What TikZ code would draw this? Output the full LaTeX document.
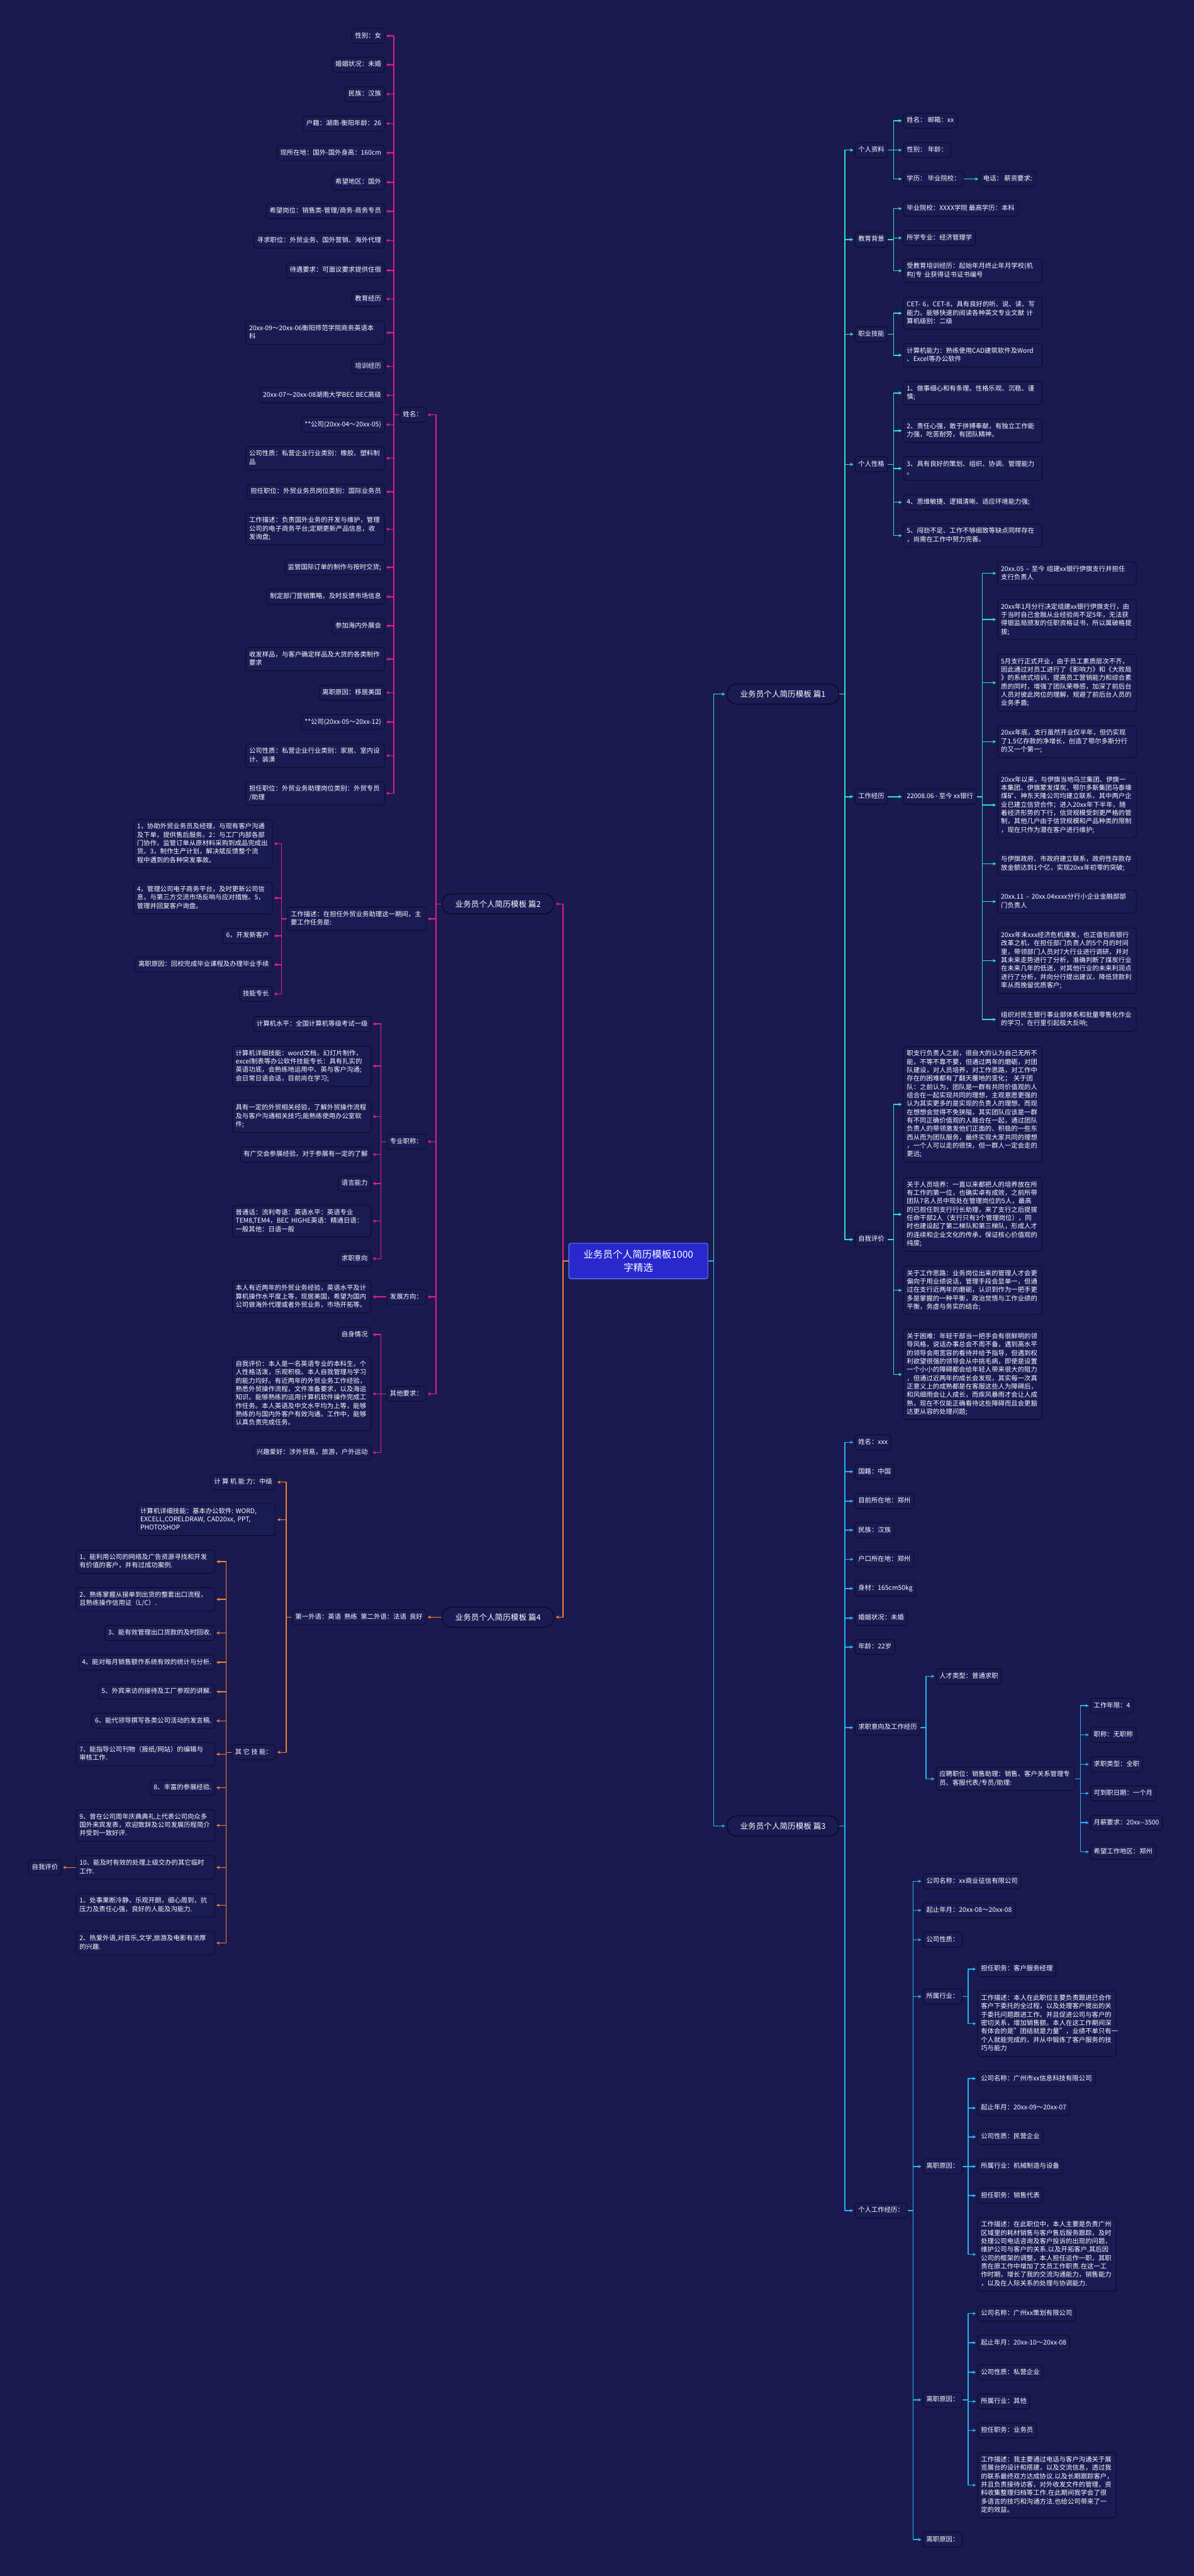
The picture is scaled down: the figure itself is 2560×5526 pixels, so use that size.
\documentclass[tikz,border=0pt]{standalone}
\usepackage{fontspec}
\setmainfont{Noto Sans CJK SC}
\usetikzlibrary{arrows.meta}
\hyphenpenalty=10000
\exhyphenpenalty=10000
\definecolor{bg}{RGB}{26,26,80}
\definecolor{nodefill}{RGB}{27,27,84}
\definecolor{nodeedge}{RGB}{10,10,36}
\definecolor{cpink}{RGB}{230,30,140}
\definecolor{corange}{RGB}{245,130,50}
\definecolor{ccyan}{RGB}{50,225,200}
\definecolor{cblue}{RGB}{40,180,240}
\definecolor{centerfill}{RGB}{40,40,205}
\definecolor{centeredge}{RGB}{100,120,255}
\newcommand\mystrut{\rule[-5pt]{0pt}{18pt}}
\newcommand\LeafE[5][]{\node[leaf,anchor=east,#1] (#2) at (#3,#4) {#5};}
\newcommand\LeafW[5][]{\node[leaf,anchor=west,#1] (#2) at (#3,#4) {#5};}
\newcommand\ConL[3]{\draw[conn,#1] (#2.west) -- ++(-12,0) |- (#3.east);}
\newcommand\ConR[3]{\draw[conn,#1] (#2.east) -- ++(12,0) |- (#3.west);}
\begin{document}
\begin{tikzpicture}[x=1pt,y=-1pt,
 leaf/.style={draw=nodeedge,line width=1.2pt,fill=nodefill,rounded corners=6pt,text=white,align=left,
   inner xsep=7pt,inner ysep=7pt,font=\fontsize{14}{18}\selectfont,
   execute at begin node={\parindent0pt\mystrut},execute at end node=\mystrut},
 w/.style={text width=283pt},
 mainnode/.style={draw=nodeedge,line width=2pt,fill=nodefill,rounded corners=21pt,text=white,
   minimum width=240pt,minimum height=43pt,font=\fontsize{17}{20}\selectfont,inner sep=4pt},
 rootnode/.style={draw=centeredge,line width=1.5pt,fill=centerfill,rounded corners=4pt,text=white,
   align=center,minimum width=298pt,minimum height=76pt,font=\fontsize{21}{28}\selectfont},
 conn/.style={line width=2pt,line join=round,-{Stealth[length=7pt,width=7pt]},shorten >=3pt},
]
\fill[bg] (0,0) rectangle (2560,5526);
\useasboundingbox (0,0) rectangle (2560,5526);

% root and main branches
\node[rootnode] (root) at (1369,2705) {业务员个人简历模板1000\\字精选};
\node[mainnode,anchor=east] (p1) at (1800,1489) {业务员个人简历模板 篇1};
\node[mainnode,anchor=west] (p2) at (947,1939) {业务员个人简历模板 篇2};
\node[mainnode,anchor=east] (p3) at (1800,3917) {业务员个人简历模板 篇3};
\node[mainnode,anchor=west] (p4) at (947,3469) {业务员个人简历模板 篇4};
\ConL{cpink}{root}{p2}
\ConL{corange}{root}{p4}
\ConR{ccyan}{root}{p1}
\ConR{cblue}{root}{p3}

% ===== 篇2 =====
\LeafE{xm}{914}{890}{姓名：}
\LeafE{a01}{825}{77}{性别：女}
\LeafE{a02}{825}{139}{婚姻状况：未婚}
\LeafE{a03}{825}{202}{民族：汉族}
\LeafE{a04}{825}{265}{户籍：湖南-衡阳年龄：26}
\LeafE{a05}{825}{328}{现所在地：国外-国外身高：160cm}
\LeafE{a06}{825}{391}{希望地区：国外}
\LeafE{a07}{825}{453}{希望岗位：销售类-管理/商务-商务专员}
\LeafE{a08}{825}{516}{寻求职位：外贸业务、国外营销、海外代理}
\LeafE{a09}{825}{580}{待遇要求：可面议要求提供住宿}
\LeafE{a10}{825}{641.5}{教育经历}
\LeafE[w]{a11}{825}{714}{20xx-09～20xx-06衡阳师范学院商务英语本\\科}
\LeafE{a12}{825}{786}{培训经历}
\LeafE{a13}{825}{848}{20xx-07～20xx-08湖南大学BEC BEC高级}
\LeafE{a14}{825}{911}{**公司(20xx-04～20xx-05)}
\LeafE[w]{a15}{825}{983}{公司性质：私营企业行业类别：橡胶、塑料制\\品}
\LeafE{a16}{825}{1055}{担任职位：外贸业务员岗位类别：国际业务员}
\LeafE[w]{a17}{825}{1135}{工作描述：负责国外业务的开发与维护，管理\\公司的电子商务平台;定期更新产品信息，收\\发询盘;}
\LeafE{a18}{825}{1217}{监管国际订单的制作与按时交货;}
\LeafE{a19}{825}{1280}{制定部门营销策略，及时反馈市场信息}
\LeafE{a20}{825}{1342.5}{参加海内外展会}
\LeafE[w]{a21}{825}{1414}{收发样品，与客户确定样品及大货的各类制作\\要求}
\LeafE{a22}{825}{1486}{离职原因：移居美国}
\LeafE{a23}{825}{1549}{**公司(20xx-05～20xx-12)}
\LeafE[w]{a24}{825}{1621}{公司性质：私营企业行业类别：家居、室内设\\计、装潢}
\LeafE[w]{a25}{825}{1702}{担任职位：外贸业务助理岗位类别：外贸专员\\/助理}
\foreach \c in {a01,a02,a03,a04,a05,a06,a07,a08,a09,a10,a11,a12,a13,a14,a15,a16,a17,a18,a19,a20,a21,a22,a23,a24,a25}{\ConL{cpink}{xm}{\c}}

\LeafE[w]{gz}{914}{1971}{工作描述：在担任外贸业务助理这一期间，主\\要工作任务是:}
\LeafE[w]{b1}{584.5}{1810}{1，协助外贸业务员及经理，与现有客户沟通\\及下单，提供售后服务。2：与工厂内部各部\\门协作，监管订单从原材料采购到成品完成出\\货。3，制作生产计划，解决斌反馈整个流\\程中遇到的各种突发事故。}
\LeafE[w]{b2}{584.5}{1926.5}{4，管理公司电子商务平台，及时更新公司信\\息，与第三方交流市场反响与应对措施。5，\\管理并回复客户询盘。}
\LeafE{b3}{584.5}{2007.5}{6，开发新客户}
\LeafE{b4}{584.5}{2069.5}{离职原因：回校完成毕业课程及办理毕业手续}
\LeafE{b5}{584.5}{2132}{技能专长}
\foreach \c in {b1,b2,b3,b4,b5}{\ConL{cpink}{gz}{\c}}

\LeafE{zy}{914}{2449}{专业职称：}
\LeafE{c1}{796}{2196.6}{计算机水平：全国计算机等级考试一级}
\LeafE[w]{c2}{796}{2287}{计算机详细技能：word文档，幻灯片制作，\\excel制表等办公软件技能专长：具有扎实的\\英语功底，会熟练地运用中、英与客户沟通;\\会日常日语会话，目前尚在学习;}
\LeafE[w]{c3}{796}{2395}{具有一定的外贸相关经验，了解外贸操作流程\\及与客户沟通相关技巧;能熟练使用办公室软\\件;}
\LeafE{c4}{796}{2476.6}{有广交会参展经验，对于参展有一定的了解}
\LeafE{c5}{796}{2539}{语言能力}
\LeafE[w]{c6}{796}{2619.6}{普通话：流利粤语：英语水平：英语专业\\TEM8,TEM4，BEC~HIGHE英语：精通日语：\\一般其他：日语一般}
\LeafE{c7}{796}{2700}{求职意向}
\foreach \c in {c1,c2,c3,c4,c5,c6,c7}{\ConL{cpink}{zy}{\c}}

\LeafE{fz}{914}{2782}{发展方向：}
\LeafE[w]{d1}{796}{2782}{本人有近两年的外贸业务经验，英语水平及计\\算机操作水平度上等，现居美国，希望为国内\\公司做海外代理或者外贸业务，市场开拓等。}
\ConL{cpink}{fz}{d1}

\LeafE{qt}{914}{2990}{其他要求：}
\LeafE{e1}{796}{2863}{自身情况}
\LeafE[w]{e2}{796}{2990}{自我评价：本人是一名英语专业的本科生，个\\人性格活泼，乐观积极。本人自我管理与学习\\的能力均好。有近两年的外贸业务工作经验，\\熟悉外贸操作流程，文件准备要求，以及海运\\知识。能够熟练的运用计算机软件操作完成工\\作任务。本人英语及中文水平均为上等，能够\\熟练的与国内外客户有效沟通。工作中，能够\\认真负责完成任务。}
\LeafE{e3}{796}{3116}{兴趣爱好：涉外贸易，旅游，户外运动}
\foreach \c in {e1,e2,e3}{\ConL{cpink}{qt}{\c}}

\foreach \c in {xm,gz,zy,fz,qt}{\ConL{cpink}{p2}{\c}}

% ===== 篇4 =====
\LeafE{wy}{914}{3469}{第一外语：英语\hspace{7pt}熟练\hspace{7pt}第二外语：法语\hspace{7pt}良好}
\ConL{corange}{p4}{wy}
\LeafE{f1}{591.5}{3179.5}{计 算 机 能 力：中级}
\LeafE[w]{f2}{591.5}{3260}{计算机详细技能：基本办公软件:~WORD,\\EXCELL,CORELDRAW,~CAD20xx,~PPT,\\PHOTOSHOP}
\LeafE{f3}{591.5}{3759}{其 它 技 能：}
\foreach \c in {f1,f2,f3}{\ConL{corange}{wy}{\c}}
\LeafE[w]{g01}{461}{3350}{1、能利用公司的网络及广告资源寻找和开发\\有价值的客户，并有过成功案例.}
\LeafE[w]{g02}{461}{3431}{2、熟练掌握从接单到出货的整套出口流程，\\且熟练操作信用证（L/C）.}
\LeafE{g03}{461}{3503}{3、能有效管理出口货款的及时回收.}
\LeafE{g04}{461}{3566}{4、能对每月销售额作系统有效的统计与分析.}
\LeafE{g05}{461}{3629}{5、外宾来访的接待及工厂参观的讲解.}
\LeafE{g06}{461}{3691.5}{6、能代领导撰写各类公司活动的发言稿.}
\LeafE[w]{g07}{461}{3763}{7、能指导公司刊物（报纸/网站）的编辑与\\审核工作.}
\LeafE{g08}{461}{3835}{8、丰富的参展经验.}
\LeafE[w]{g09}{461}{3916}{9、曾在公司周年庆典典礼上代表公司向众多\\国外来宾发表，欢迎致辞及公司发展历程简介\\并受到一致好评.}
\LeafE[w]{g10}{461}{4006}{10、能及时有效的处理上级交办的其它临时\\工作.}
\LeafE[w]{g11}{461}{4087}{1、处事果断冷静，乐观开朗，细心周到，抗\\压力及责任心强，良好的人能及沟能力.}
\LeafE[w]{g12}{461}{4168}{2、热爱外语,对音乐,文学,旅游及电影有浓厚\\的兴趣.}
\foreach \c in {g01,g02,g03,g04,g05,g06,g07,g08,g09,g10,g11,g12}{\ConL{corange}{f3}{\c}}
\LeafE{zw}{132}{4006}{自我评价}
\ConL{corange}{g10}{zw}

% ===== 篇1 =====
\LeafW{h1}{1833}{322}{个人资料}
\LeafW{h11}{1937}{259}{姓名： 邮箱：xx}
\LeafW{h12}{1937}{322}{性别： 年龄：}
\LeafW{h13}{1937}{384}{学历： 毕业院校：}
\LeafW{h131}{2101}{384}{电话： 薪资要求:}
\foreach \c in {h11,h12,h13}{\ConR{ccyan}{h1}{\c}}
\ConR{ccyan}{h13}{h131}
\LeafW{h2}{1833}{514}{教育背景}
\LeafW{h21}{1937}{447.5}{毕业院校：XXXX学院 最高学历：本科}
\LeafW{h22}{1937}{510.6}{所学专业：经济管理学}
\LeafW[w]{h23}{1937}{581}{受教育培训经历：起始年月终止年月学校(机\\构)专~业获得证书证书编号}
\foreach \c in {h21,h22,h23}{\ConR{ccyan}{h2}{\c}}
\LeafW{h3}{1833}{717}{职业技能}
\LeafW[w]{h31}{1937}{672}{CET-~6，CET-8，具有良好的听、说、读、写\\能力。能够快速的阅读各种英文专业文献~计\\算机级别：二级}
\LeafW[w]{h32}{1937}{762}{计算机能力：熟练使用CAD建筑软件及Word\\、Excel等办公软件}
\foreach \c in {h31,h32}{\ConR{ccyan}{h3}{\c}}
\LeafW{h4}{1833}{996}{个人性格}
\LeafW[w]{h41}{1937}{843}{1、做事细心和有条理。性格乐观、沉稳、谨\\慎;}
\LeafW[w]{h42}{1937}{924}{2、责任心强，敢于拼搏奉献，有独立工作能\\力强，吃苦耐劳，有团队精神。}
\LeafW[w]{h43}{1937}{1005}{3、具有良好的策划、组织、协调、管理能力\\。}
\LeafW{h44}{1937}{1077.6}{4、思维敏捷、逻辑清晰、适应环境能力强;}
\LeafW[w]{h45}{1937}{1149}{5、闯劲不足、工作不够细致等缺点同样存在\\，尚需在工作中努力完善。}
\foreach \c in {h41,h42,h43,h44,h45}{\ConR{ccyan}{h4}{\c}}
\LeafW{h5}{1833}{1709}{工作经历}
\LeafW{h51}{1937}{1709}{22008.06 - 至今 xx银行}
\ConR{ccyan}{h5}{h51}
\LeafW[w]{k1}{2139}{1230}{20xx.05~–~至今~组建xx银行伊旗支行并担任\\支行负责人}
\LeafW[w]{k2}{2139}{1329}{20xx年1月分行决定组建xx银行伊旗支行，由\\于当时自己金融从业经验尚不足5年，无法获\\得银监局颁发的任职资格证书，所以属破格提\\拔;}
\LeafW[w]{k3}{2139}{1464.6}{5月支行正式开业，由于员工素质层次不齐，\\因此通过对员工进行了《影响力》和《大败局\\》的系统式培训，提高员工营销能力和综合素\\质的同时，增强了团队荣辱感，加深了前后台\\人员对彼此岗位的理解，规避了前后台人员的\\业务矛盾;}
\LeafW[w]{k4}{2139}{1591}{20xx年底，支行虽然开业仅半年，但仍实现\\了1.5亿存款的净增长，创造了鄂尔多斯分行\\的又一个第一;}
\LeafW[w]{k5}{2139}{1727}{20xx年以来，与伊旗当地乌兰集团、伊旗一\\本集团、伊旗蒙发煤炭、鄂尔多斯集团马泰壕\\煤矿、神东天隆公司均建立联系，其中两户企\\业已建立信贷合作；进入20xx年下半年，随\\着经济形势的下行，信贷规模受到更严格的管\\制，其他几户由于信贷规模和产品种类的限制\\，现在只作为潜在客户进行维护;}
\LeafW[w]{k6}{2139}{1853}{与伊旗政府、市政府建立联系，政府性存款存\\放金额达到1个亿，实现20xx年初零的突破;}
\LeafW[w]{k7}{2139}{1934}{20xx.11~–~20xx.04xxxx分行小企业金融部部\\门负责人}
\LeafW[w]{k8}{2139}{2061}{20xx年末xxx经济危机爆发，也正值包商银行\\改革之机，在担任部门负责人的5个月的时间\\里，带领部门人员对7大行业进行调研，并对\\其未来走势进行了分析，准确判断了煤炭行业\\在未来几年的低迷，对其他行业的未来利润点\\进行了分析，并向分行提出建议，降低贷款利\\率从而挽留优质客户;}
\LeafW[w]{k9}{2139}{2187}{组织对民生银行事业部体系和批量零售化作业\\的学习，在行里引起极大反响;}
\foreach \c in {k1,k2,k3,k4,k5,k6,k7,k8,k9}{\ConR{ccyan}{h51}{\c}}
\LeafW{h6}{1833}{2659}{自我评价}
\LeafW[w]{m1}{1937}{2369}{职支行负责人之前，很自大的认为自己无所不\\能，不等不靠不要，但通过两年的磨砺，对团\\队建设，对人员培养，对工作思路，对工作中\\存在的困难都有了翻天覆地的变化；~关于团\\队：之前认为，团队是一群有共同价值观的人\\组合在一起实现共同的理想，主观意愿更强的\\认为其实更多的是实现的负责人的理想。而现\\在想想会觉得不免狭隘，其实团队应该是一群\\有不同正确价值观的人融合在一起，通过团队\\负责人的带领激发他们正面的、积极的一些东\\西从而为团队服务，最终实现大家共同的理想\\，一个人可以走的很快，但一群人一定会走的\\更远;}
\LeafW[w]{m2}{1937}{2605}{关于人员培养：一直以来都把人的培养放在所\\有工作的第一位，也确实卓有成效，之前所带\\团队7名人员中现处在管理岗位的5人，最高\\的已担任到支行行长助理，来了支行之后提拔\\任命干部2人（支行只有3个管理岗位），同\\时也建设起了第二梯队和第三梯队，形成人才\\的连续和企业文化的传承，保证核心价值观的\\纯度;}
\LeafW[w]{m3}{1937}{2768}{关于工作思路：业务岗位出来的管理人才会更\\偏向于用业绩说话，管理手段会显单一，但通\\过在支行近两年的磨砺，认识到作为一把手更\\多是掌握的一种平衡，政治觉悟与工作业绩的\\平衡，务虚与务实的结合;}
\LeafW[w]{m4}{1937}{2948.5}{关于困难：年轻干部当一把手会有很鲜明的领\\导风格，说话办事总会不周不备，遇到高水平\\的领导会用宽容的看待并给予指导，但遇到权\\利欲望很强的领导会从中挑毛病，即使是设置\\一个小小的障碍都会给年轻人带来很大的阻力\\，但通过近两年的成长会发现，其实每一次真\\正意义上的成熟都是在客服这些人为障碍后，\\和风细雨会让人成长，而疾风暴雨才会让人成\\熟，现在不仅能正确看待这些障碍而且会更豁\\达更从容的处理问题;}
\foreach \c in {m1,m2,m3,m4}{\ConR{ccyan}{h6}{\c}}
\foreach \c in {h1,h2,h3,h4,h5,h6}{\ConR{ccyan}{p1}{\c}}

% ===== 篇3 =====
\LeafW{n1}{1833}{3094}{姓名：xxx}
\LeafW{n2}{1833}{3157}{国籍：中国}
\LeafW{n3}{1833}{3220}{目前所在地：郑州}
\LeafW{n4}{1833}{3282.5}{民族：汉族}
\LeafW{n5}{1833}{3345}{户口所在地：郑州}
\LeafW{n6}{1833}{3407.6}{身材：165cm50kg}
\LeafW{n7}{1833}{3471}{婚姻状况：未婚}
\LeafW{n8}{1833}{3533}{年龄：22岁}
\LeafW{n9}{1833}{3706}{求职意向及工作经历}
\LeafW{n10}{1833}{4742}{个人工作经历：}
\foreach \c in {n1,n2,n3,n4,n5,n6,n7,n8,n9,n10}{\ConR{cblue}{p3}{\c}}
\LeafW{q1}{2007}{3596}{人才类型：普通求职}
\LeafW[w]{q2}{2007}{3816}{应聘职位：销售助理：销售、客户关系管理专\\员、客服代表/专员/助理:}
\foreach \c in {q1,q2}{\ConR{cblue}{n9}{\c}}
\LeafW{r1}{2338}{3659}{工作年限：4}
\LeafW{r2}{2338}{3721.6}{职称：无职称}
\LeafW{r3}{2338}{3784.7}{求职类型：全职}
\LeafW{r4}{2338}{3847}{可到职日期：一个月}
\LeafW{r5}{2338}{3910}{月薪要求：20xx-{}-3500}
\LeafW{r6}{2338}{3972.6}{希望工作地区：郑州}
\foreach \c in {r1,r2,r3,r4,r5,r6}{\ConR{cblue}{q2}{\c}}
\LeafW{s1}{1979}{4035.5}{公司名称：xx商业征信有限公司}
\LeafW{s2}{1979}{4098}{起止年月：20xx-08～20xx-08}
\LeafW{s3}{1979}{4161}{公司性质：}
\LeafW{s4}{1979}{4283}{所属行业：}
\LeafW{s5}{1979}{4647.5}{离职原因：}
\LeafW{s6}{1979}{5148}{离职原因：}
\LeafW{s7}{1979}{5448}{离职原因：}
\foreach \c in {s1,s2,s3,s4,s5,s6,s7}{\ConR{cblue}{n10}{\c}}
\LeafW{t1}{2096}{4224}{担任职务：客户服务经理}
\LeafW[w]{t2}{2096}{4341}{工作描述：本人在此职位主要负责跟进已合作\\客户下委托的全过程，以及处理客户提出的关\\于委托问题跟进工作。并且促进公司与客户的\\密切关系，增加销售额。本人在这工作期间深\\有体会的是"团结就是力量"，业绩不单只有一\\个人就能完成的，并从中锻炼了客户服务的技\\巧与能力}
\foreach \c in {t1,t2}{\ConR{cblue}{s4}{\c}}
\LeafW{u1}{2096}{4459}{公司名称：广州市xx信息科技有限公司}
\LeafW{u2}{2096}{4522}{起止年月：20xx-09～20xx-07}
\LeafW{u3}{2096}{4584}{公司性质：民营企业}
\LeafW{u4}{2096}{4647.5}{所属行业：机械制造与设备}
\LeafW{u5}{2096}{4710}{担任职务：销售代表}
\LeafW[w]{u6}{2096}{4836}{工作描述：在此职位中，本人主要是负责广州\\区域里的耗材销售与客户售后服务跟踪，及时\\处理公司电话咨询及客户投诉的出现的问题，\\维护公司与客户的关系.以及开拓客户.其后因\\公司的框架的调整，本人担任运作一职，其职\\责在原工作中增加了文员工作职责.在这一工\\作时期，增长了我的交流沟通能力，销售能力\\，以及在人际关系的处理与协调能力.}
\foreach \c in {u1,u2,u3,u4,u5,u6}{\ConR{cblue}{s5}{\c}}
\LeafW{v1}{2096}{4963}{公司名称：广州xx策划有限公司}
\LeafW{v2}{2096}{5025.6}{起止年月：20xx-10～20xx-08}
\LeafW{v3}{2096}{5089}{公司性质：私营企业}
\LeafW{v4}{2096}{5151.5}{所属行业：其他}
\LeafW{v5}{2096}{5213.6}{担任职务：业务员}
\LeafW[w]{v6}{2096}{5331}{工作描述：我主要通过电话与客户沟通关于展\\览展台的设计和搭建，以及交流信息，透过我\\的联系最终双方达成协议.以及长期跟踪客户，\\并且负责接待访客，对外收发文件的管理，资\\料收集整理归档等工作.在此期间我学会了很\\多语言的技巧和沟通方法.也给公司带来了一\\定的效益。}
\foreach \c in {v1,v2,v3,v4,v5,v6}{\ConR{cblue}{s6}{\c}}
\end{tikzpicture}
\end{document}
